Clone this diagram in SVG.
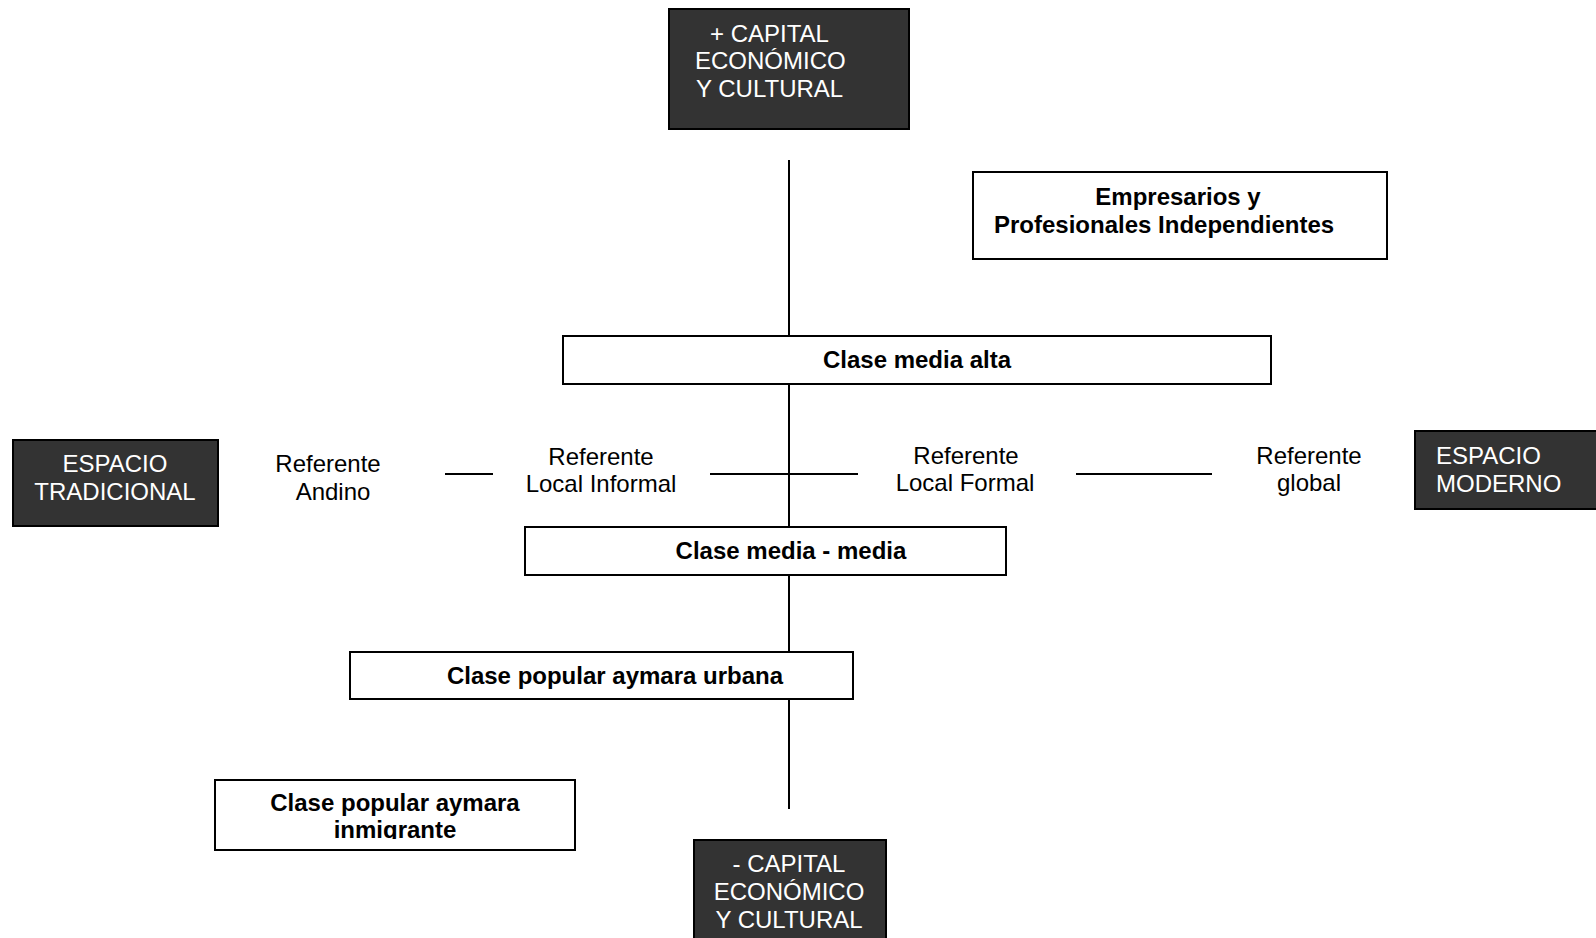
<svg xmlns="http://www.w3.org/2000/svg" width="1596" height="938" viewBox="0 0 1596 938">
<style>
.dark{fill:#333333;stroke:#000;stroke-width:2}
.box{fill:#fff;stroke:#000;stroke-width:2}
.wt{font-family:"Liberation Sans",Arial,sans-serif;font-size:24px;fill:#fff}
.bt{font-family:"Liberation Sans",Arial,sans-serif;font-size:24px;font-weight:bold;fill:#000}
.rt{font-family:"Liberation Sans",Arial,sans-serif;font-size:24px;fill:#000}
.c{text-anchor:middle}
.ln{stroke:#000;stroke-width:2;fill:none}
</style>
<defs>
<clipPath id="clipInm"><rect x="215" y="779" width="360" height="60"/></clipPath>
</defs>
<rect width="1596" height="938" fill="#fff"/>
<g id="connectors">
<line class="ln" x1="789" y1="160" x2="789" y2="809"/>
<line class="ln" x1="445" y1="474" x2="493" y2="474"/>
<line class="ln" x1="710" y1="474" x2="858" y2="474"/>
<line class="ln" x1="1076" y1="474" x2="1212" y2="474"/>
</g>
<g id="capital-plus">
<rect class="dark" x="669" y="9" width="240" height="120"/>
<text class="wt" x="710" y="42">+ CAPITAL</text>
<text class="wt" x="695" y="69">ECONÓMICO</text>
<text class="wt" x="696" y="97">Y CULTURAL</text>
</g>
<g id="empresarios">
<rect class="box" x="973" y="172" width="414" height="87"/>
<text class="bt" x="1178" y="205" text-anchor="middle">Empresarios y</text>
<text class="bt" x="994" y="233">Profesionales Independientes</text>
</g>
<g id="clase-media-alta">
<rect class="box" x="563" y="336" width="708" height="48"/>
<text class="bt c" x="917" y="368">Clase media alta</text>
</g>
<g id="espacio-tradicional">
<rect class="dark" x="13" y="440" width="205" height="86"/>
<text class="wt c" x="115" y="472">ESPACIO</text>
<text class="wt c" x="115" y="500">TRADICIONAL</text>
</g>
<g id="referente-andino">
<text class="rt c" x="328" y="472">Referente</text>
<text class="rt c" x="333" y="500">Andino</text>
</g>
<g id="referente-local-informal">
<text class="rt c" x="601" y="465">Referente</text>
<text class="rt c" x="601" y="492">Local Informal</text>
</g>
<g id="referente-local-formal">
<text class="rt c" x="966" y="464">Referente</text>
<text class="rt c" x="965" y="491">Local Formal</text>
</g>
<g id="referente-global">
<text class="rt c" x="1309" y="464">Referente</text>
<text class="rt c" x="1309" y="491">global</text>
</g>
<g id="espacio-moderno">
<rect class="dark" x="1415" y="431" width="190" height="78"/>
<text class="wt" x="1436" y="464">ESPACIO</text>
<text class="wt" x="1436" y="492">MODERNO</text>
</g>
<g id="clase-media-media">
<rect class="box" x="525" y="527" width="481" height="48"/>
<text class="bt c" x="791" y="559">Clase media - media</text>
</g>
<g id="clase-popular-urbana">
<rect class="box" x="350" y="652" width="503" height="47"/>
<text class="bt c" x="615" y="684">Clase popular aymara urbana</text>
</g>
<g id="clase-popular-inmigrante">
<rect class="box" x="215" y="780" width="360" height="70"/>
<text class="bt c" x="395" y="811">Clase popular aymara</text>
<text class="bt c" x="395" y="838" clip-path="url(#clipInm)">inmigrante</text>
</g>
<g id="capital-minus">
<rect class="dark" x="694" y="840" width="192" height="110"/>
<text class="wt c" x="789" y="872">- CAPITAL</text>
<text class="wt c" x="789" y="900">ECONÓMICO</text>
<text class="wt c" x="789" y="928">Y CULTURAL</text>
</g>
</svg>
